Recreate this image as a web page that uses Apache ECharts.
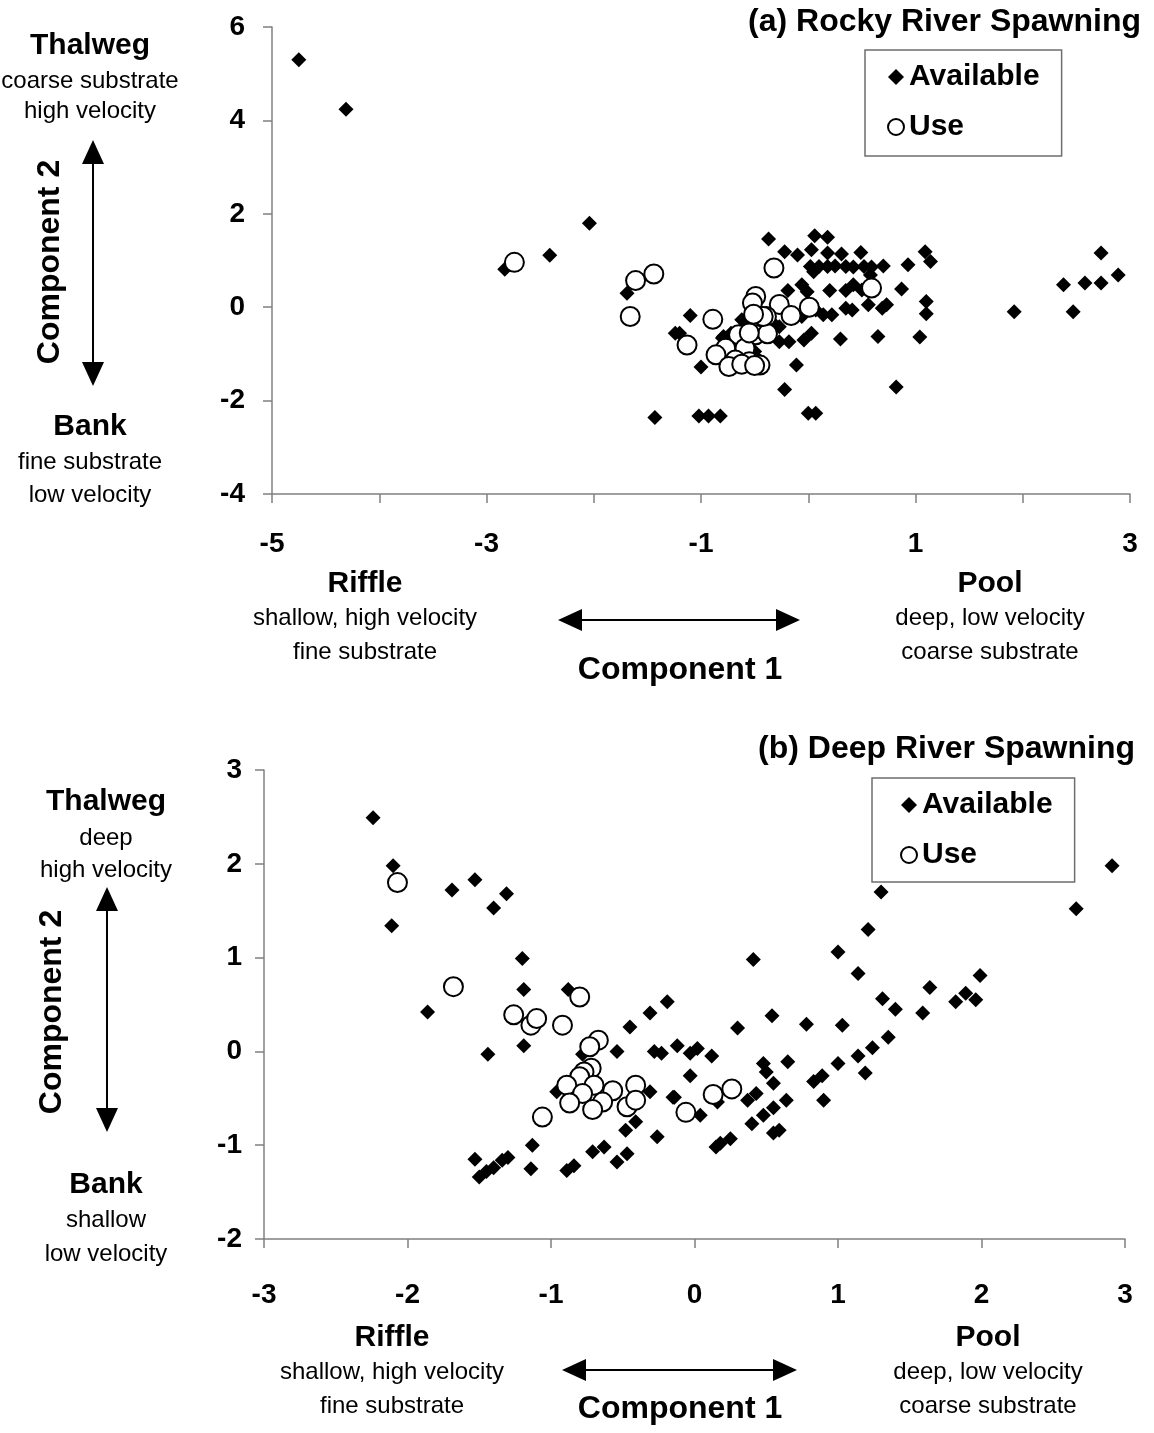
<!DOCTYPE html>
<html>
<head>
<meta charset="utf-8">
<script src="https://cdn.jsdelivr.net/npm/echarts@6/dist/echarts.min.js"></script>
<style>
  html, body { margin: 0; padding: 0; background: #ffffff; }
  #chart { width: 1154px; height: 1433px; }
</style>
</head>
<body>
<div id="chart"></div>
<script>
// Principal-component scores of spawning habitat: available cells vs. used sites.

// (a) Rocky River
const rockyAvailable = [
  [-4.75, 5.30], [-4.31, 4.24], [-2.83, 0.81], [-2.41, 1.11], [-2.04, 1.80],
  [-1.69, 0.30], [-1.10, -0.18], [-1.24, -0.56], [-1.00, -1.28], [-1.43, -2.36],
  [-1.02, -2.33], [-0.93, -2.33], [-0.82, -2.33],
  [-0.37, 1.46], [0.06, 1.53], [0.18, 1.50], [-0.22, 1.19], [-0.10, 1.12], [0.03, 1.23],
  [0.18, 1.16], [0.31, 1.14], [0.49, 1.17], [1.09, 1.19], [1.14, 0.98], [0.93, 0.91],
  [0.02, 0.87], [0.10, 0.87], [0.18, 0.87], [0.25, 0.88], [0.35, 0.87], [0.42, 0.86],
  [0.52, 0.87], [0.59, 0.86], [0.70, 0.88], [0.05, 0.76], [0.58, 0.69], [0.87, 0.39],
  [-0.19, 0.36], [-0.06, 0.48], [-0.01, 0.33], [0.20, 0.36], [0.35, 0.36], [0.42, 0.48], [0.50, 0.37],
  [0.07, -0.06], [0.14, -0.16], [0.22, -0.16], [0.35, -0.02], [0.41, -0.06], [0.56, 0.05],
  [0.69, -0.02], [0.73, 0.05], [1.10, 0.12], [1.10, -0.14],
  [-0.27, -0.74], [-0.18, -0.74], [-0.04, -0.70], [0.03, -0.56], [0.30, -0.68], [0.65, -0.63], [1.04, -0.64],
  [-0.11, -1.24], [-0.22, -1.76], [0.82, -1.71], [0.00, -2.27], [0.07, -2.27],
  [-1.20, -0.56], [-0.80, -0.66], [-0.72, -0.56], [-0.55, -0.27], [-0.34, -0.31], [-0.27, -0.42], [-0.06, -0.20],
  [-0.79, -0.63], [-0.62, -0.27], [-0.50, -0.95], [-0.70, -1.05],
  [1.92, -0.10], [2.38, 0.48], [2.47, -0.10], [2.58, 0.52], [2.73, 0.52], [2.73, 1.16], [2.89, 0.69]
];
const rockyUse = [
  [-2.74, 0.96], [-1.61, 0.57], [-1.44, 0.71], [-1.66, -0.20], [-1.13, -0.81], [-0.89, -0.26],
  [-0.32, 0.84], [0.59, 0.41], [0.01, 0.00], [-0.27, 0.06], [-0.49, 0.23], [-0.52, 0.09],
  [-0.39, -0.20], [-0.16, -0.18],
  [-0.65, -0.59], [-0.49, -0.59], [-0.38, -0.57], [-0.59, -0.88], [-0.77, -0.88], [-0.86, -1.02],
  [-0.68, -1.13], [-0.49, -1.20], [-0.45, -1.24], [-0.74, -1.27], [-0.55, -1.17], [-0.62, -1.22],
  [-0.55, -0.55], [-0.50, -1.25], [-0.42, -0.20], [-0.51, -0.15]
];

// (b) Deep River
const deepAvailable = [
  [-2.24, 2.49], [-2.10, 1.98], [-2.11, 1.34], [-1.69, 1.72], [-1.53, 1.83], [-1.40, 1.53],
  [-1.31, 1.68], [-1.20, 0.99], [-1.19, 0.66], [-0.88, 0.66], [-1.86, 0.42],
  [-0.19, 0.53], [-0.31, 0.41], [-0.45, 0.26], [-1.19, 0.06], [-1.44, -0.03], [-0.54, 0.00],
  [-0.28, 0.00], [-0.23, -0.02], [-0.12, 0.06], [-0.78, -0.03],
  [-0.96, -0.43], [-0.31, -0.43], [-0.15, -0.49], [-0.41, -0.75], [-0.48, -0.84], [-0.26, -0.91],
  [-1.13, -1.00], [-1.53, -1.15], [-1.50, -1.34], [-1.45, -1.28], [-1.40, -1.24], [-1.34, -1.16],
  [-1.30, -1.13], [-1.14, -1.25], [-0.89, -1.27], [-0.84, -1.22], [-0.71, -1.07], [-0.63, -1.02],
  [-0.54, -1.18], [-0.47, -1.09],
  [0.41, 0.98], [1.00, 1.06], [1.21, 1.30], [1.30, 1.70], [1.14, 0.83], [1.31, 0.56], [1.40, 0.45],
  [1.35, 0.15], [1.24, 0.04], [1.14, -0.05], [1.00, -0.13], [1.19, -0.23], [1.03, 0.28], [0.78, 0.29],
  [0.54, 0.38], [0.30, 0.25], [0.65, -0.11], [0.48, -0.13], [0.50, -0.22], [0.55, -0.34], [0.83, -0.32],
  [0.89, -0.26], [0.90, -0.52], [0.37, -0.52], [0.43, -0.45], [0.64, -0.52], [0.55, -0.60], [0.48, -0.68],
  [0.40, -0.77], [0.55, -0.87], [0.59, -0.84], [0.15, -1.02], [0.18, -0.98], [0.25, -0.93], [0.12, -0.05],
  [-0.03, -0.02], [0.02, 0.03], [-0.03, -0.26], [-0.14, -0.49], [0.04, -0.68], [0.16, -0.54],
  [2.91, 1.98], [2.66, 1.52], [1.64, 0.68], [1.99, 0.81], [1.59, 0.41], [1.82, 0.53], [1.89, 0.62], [1.96, 0.55]
];
const deepUse = [
  [-2.07, 1.80], [-1.68, 0.69], [-0.80, 0.58], [-1.26, 0.39], [-1.14, 0.28], [-1.10, 0.35], [-0.92, 0.28],
  [-0.67, 0.12], [-0.73, 0.05], [-0.72, -0.18], [-0.77, -0.22], [-0.80, -0.27], [-0.89, -0.36], [-0.70, -0.36],
  [-0.78, -0.45], [-0.57, -0.42], [-0.41, -0.36], [-0.87, -0.55], [-0.64, -0.54], [-0.71, -0.62],
  [-0.47, -0.59], [-0.41, -0.52], [-1.06, -0.70], [-0.06, -0.65], [0.13, -0.46], [0.26, -0.40]
];

// Axis ranges [min, max, interval]
const rockyXAxis = [-5, 3, 1];
const rockyYAxis = [-4, 6, 2];
const deepXAxis = [-3, 3, 1];
const deepYAxis = [-2, 3, 1];

const seriesNames = ['Available', 'Use'];
const panelTitles = ['(a) Rocky River Spawning', '(b) Deep River Spawning'];

const FONT = '"Liberation Sans", Arial, sans-serif';
const AXIS_GRAY = '#808080';

function valueAxis(gridIndex, range, labelMargin, formatter) {
  return {
    type: 'value', gridIndex,
    min: range[0], max: range[1], interval: range[2],
    splitLine: { show: false },
    axisLine: { show: true, onZero: false, lineStyle: { color: AXIS_GRAY, width: 1.5 } },
    axisTick: { show: true, inside: false, length: 9, lineStyle: { color: AXIS_GRAY, width: 1.5 } },
    axisLabel: {
      margin: labelMargin, color: '#000', fontFamily: FONT, fontWeight: 'bold', fontSize: 28,
      formatter: formatter || (v => String(v))
    }
  };
}

function text(x, y, str, bold, size, rotation, align) {
  const a = align || 'center';
  return {
    type: 'text', x, y, rotation: rotation || 0, silent: true,
    style: {
      text: str, x: 0, y: 0,
      font: (bold ? 'bold ' : '') + size + 'px ' + FONT,
      fill: '#000',
      align: a, verticalAlign: 'middle',
      textAlign: a, textVerticalAlign: 'middle'
    }
  };
}

function vArrow(x, y1, y2) {
  const h = 24, w = 11;
  return [
    { type: 'line', silent: true, shape: { x1: x, y1: y1 + h - 2, x2: x, y2: y2 - h + 2 }, style: { stroke: '#000', lineWidth: 2 } },
    { type: 'polygon', silent: true, shape: { points: [[x, y1], [x - w, y1 + h], [x + w, y1 + h]] }, style: { fill: '#000' } },
    { type: 'polygon', silent: true, shape: { points: [[x, y2], [x - w, y2 - h], [x + w, y2 - h]] }, style: { fill: '#000' } }
  ];
}

function hArrow(y, x1, x2) {
  const h = 11, w = 24;
  return [
    { type: 'line', silent: true, shape: { x1: x1 + w - 2, y1: y, x2: x2 - w + 2, y2: y }, style: { stroke: '#000', lineWidth: 2 } },
    { type: 'polygon', silent: true, shape: { points: [[x1, y], [x1 + w, y - h], [x1 + w, y + h]] }, style: { fill: '#000' } },
    { type: 'polygon', silent: true, shape: { points: [[x2, y], [x2 - w, y - h], [x2 - w, y + h]] }, style: { fill: '#000' } }
  ];
}

const availableStyle = { symbol: 'diamond', symbolSize: 15, itemStyle: { color: '#000', opacity: 1 } };
const useStyle = { symbol: 'circle', symbolSize: 19, itemStyle: { color: '#fff', borderColor: '#000', borderWidth: 2, opacity: 1 } };

function legend(left, top, padding) {
  return {
    left, top, orient: 'vertical',
    padding, itemGap: 20, itemWidth: 16, itemHeight: 16,
    borderColor: '#6e6e6e', borderWidth: 1.5, backgroundColor: '#fff',
    selectedMode: false,
    textStyle: { fontFamily: FONT, fontWeight: 'bold', fontSize: 30, color: '#000' },
    data: [{ name: seriesNames[0], icon: 'diamond' }, { name: seriesNames[1], icon: 'circle' }]
  };
}

const SUB = 24;   // size of the descriptive lines
const HEAD = 30;  // size of Thalweg / Bank / Riffle / Pool
const AXT = 32;   // size of the component names

const option = {
  animation: false,
  backgroundColor: '#fff',
  grid: [
    { left: 272, top: 27, width: 858, height: 467 },
    { left: 264, top: 770, width: 861, height: 469 }
  ],
  xAxis: [
    valueAxis(0, rockyXAxis, 36, v => (Math.round(v) % 2 !== 0 ? String(v) : '')),
    valueAxis(1, deepXAxis, 42)
  ],
  yAxis: [
    valueAxis(0, rockyYAxis, 27),
    valueAxis(1, deepYAxis, 22)
  ],
  legend: [
    legend(865, 50, [12, 22, 14, 22]),
    legend(872, 778, [12, 22, 12, 28])
  ],
  series: [
    Object.assign({ type: 'scatter', name: seriesNames[0], xAxisIndex: 0, yAxisIndex: 0, data: rockyAvailable }, availableStyle),
    Object.assign({ type: 'scatter', name: seriesNames[1], xAxisIndex: 0, yAxisIndex: 0, data: rockyUse }, useStyle),
    Object.assign({ type: 'scatter', name: seriesNames[0], xAxisIndex: 1, yAxisIndex: 1, data: deepAvailable }, availableStyle),
    Object.assign({ type: 'scatter', name: seriesNames[1], xAxisIndex: 1, yAxisIndex: 1, data: deepUse }, useStyle)
  ],
  graphic: {
    elements: [
      // panel titles
      text(1141, 22, panelTitles[0], true, 32, 0, 'right'),
      text(1135, 749, panelTitles[1], true, 32, 0, 'right'),

      // (a) vertical annotation
      text(90, 46, 'Thalweg', true, HEAD),
      text(90, 81, 'coarse substrate', false, SUB),
      text(90, 111, 'high velocity', false, SUB),
      ...vArrow(93, 140, 386),
      text(50, 262, 'Component 2', true, AXT, Math.PI / 2),
      text(90, 427, 'Bank', true, HEAD),
      text(90, 462, 'fine substrate', false, SUB),
      text(90, 495, 'low velocity', false, SUB),

      // (a) horizontal annotation
      text(365, 584, 'Riffle', true, HEAD),
      text(365, 618, 'shallow, high velocity', false, SUB),
      text(365, 652, 'fine substrate', false, SUB),
      ...hArrow(620, 558, 800),
      text(680, 670, 'Component 1', true, AXT),
      text(990, 584, 'Pool', true, HEAD),
      text(990, 618, 'deep, low velocity', false, SUB),
      text(990, 652, 'coarse substrate', false, SUB),

      // (b) vertical annotation
      text(106, 802, 'Thalweg', true, HEAD),
      text(106, 838, 'deep', false, SUB),
      text(106, 870, 'high velocity', false, SUB),
      ...vArrow(107, 887, 1132),
      text(52, 1012, 'Component 2', true, AXT, Math.PI / 2),
      text(106, 1185, 'Bank', true, HEAD),
      text(106, 1220, 'shallow', false, SUB),
      text(106, 1254, 'low velocity', false, SUB),

      // (b) horizontal annotation
      text(392, 1338, 'Riffle', true, HEAD),
      text(392, 1372, 'shallow, high velocity', false, SUB),
      text(392, 1406, 'fine substrate', false, SUB),
      ...hArrow(1370, 562, 797),
      text(680, 1409, 'Component 1', true, AXT),
      text(988, 1338, 'Pool', true, HEAD),
      text(988, 1372, 'deep, low velocity', false, SUB),
      text(988, 1406, 'coarse substrate', false, SUB)
    ]
  }
};

const chart = echarts.init(document.getElementById('chart'), null, { renderer: 'canvas' });
chart.setOption(option);
</script>
</body>
</html>
